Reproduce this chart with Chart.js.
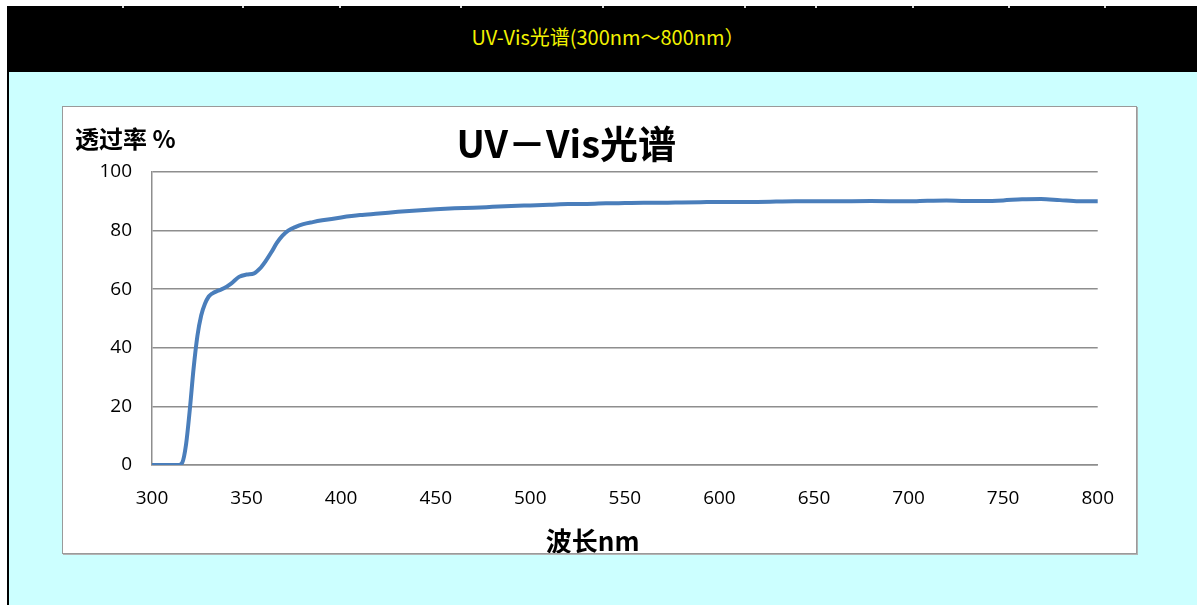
<!DOCTYPE html>
<html>
<head>
<meta charset="utf-8">
<script src="https://cdn.jsdelivr.net/npm/chart.js@4.4.1/dist/chart.umd.min.js"></script>
<style>
  html, body { margin: 0; padding: 0; background: #ffffff; }
  body { width: 1197px; height: 605px; position: relative; overflow: hidden; }
  #header { position: absolute; left: 7px; top: 6px; width: 1190px; height: 66px; background: #000000;
            color: #f2f200; font-family: "Noto Sans CJK JP", "Noto Sans CJK SC", sans-serif; font-size: 20px;
            line-height: 66px; text-align: center; }
  #header .txt { position: absolute; left: 0; right: 0; top: -2px; padding-left: 12px; }
  .mark { position: absolute; top: 0; width: 2px; height: 2px; background: #d8d8d8; }
  #panel { position: absolute; left: 7px; top: 72px; width: 1190px; height: 533px; background: #ccffff;
           border-left: 2px solid #000000; box-sizing: border-box; }
  #box { position: absolute; left: 62px; top: 106px; width: 1073px; height: 446px; background: #ffffff;
         border: 1px solid #9a9a9a; box-shadow: 1px 1px 0 #b4b4b4; }
  #box canvas { display: block; }
</style>
</head>
<body>
<div id="header">
  <div class="mark" style="left:115px"></div>
  <div class="mark" style="left:235px"></div>
  <div class="mark" style="left:332px"></div>
  <div class="mark" style="left:453px"></div>
  <div class="mark" style="left:595px"></div>
  <div class="mark" style="left:737px"></div>
  <div class="mark" style="left:808px"></div>
  <div class="mark" style="left:905px"></div>
  <div class="mark" style="left:1001px"></div>
  <div class="mark" style="left:1097px"></div>
  <div class="txt">UV-Vis光谱(300nm～800nm）</div>
</div>
<div id="panel"></div>
<div id="box"><canvas id="c" width="1073" height="446"></canvas></div>
<script>
// ---- data ----
const chartTitle = "UV－Vis光谱";
const yAxisTitle = "透过率 %";
const xAxisTitle = "波长nm";

const wavelength = [300, 305, 310, 314, 316, 318, 320, 322, 324, 326, 328, 330, 332, 335, 338, 342, 346, 350,
  354, 357, 360, 363, 366, 369, 372, 376, 380, 385, 390, 400, 410, 420, 430, 440, 450, 460, 470, 480, 490,
  500, 510, 520, 530, 540, 550, 560, 570, 580, 590, 600, 620, 640, 660, 680, 700, 710, 720, 730, 740, 750,
  760, 770, 780, 790, 800];
const transmittance = [0, 0, 0, 0, 0.8, 7, 19, 33, 44, 51, 55, 57.5, 58.6, 59.5, 60.3, 62, 64.2, 65,
  65.4, 67, 69.5, 72.5, 75.8, 78.3, 80, 81.3, 82.2, 82.9, 83.5, 84.5, 85.3, 85.8, 86.4, 86.9, 87.3, 87.6, 87.8, 88.1, 88.4,
  88.6, 88.8, 89.1, 89.1, 89.3, 89.4, 89.5, 89.5, 89.6, 89.7, 89.8, 89.8, 90.0, 90.0, 90.1, 90.0, 90.2, 90.3, 90.1, 90.1, 90.3,
  90.7, 90.8, 90.4, 90.0, 90.0];

const xTicks = [300, 350, 400, 450, 500, 550, 600, 650, 700, 750, 800];
const yTicks = [0, 20, 40, 60, 80, 100];

const points = wavelength.map((w, i) => ({ x: w, y: transmittance[i] }));

const titlePlugin = {
  id: 'excelTitles',
  afterDraw(chart) {
    const ctx = chart.ctx;
    const a = chart.chartArea;
    ctx.save();
    ctx.fillStyle = '#000000';
    ctx.textBaseline = 'middle';
    // chart title
    ctx.font = 'bold 38px "Noto Sans CJK SC", sans-serif';
    ctx.textAlign = 'center';
    ctx.fillText(chartTitle, a.left + (a.right - a.left) * 0.438, a.top - 28);
    // y axis title (horizontal, top-left)
    ctx.font = 'bold 24px "Noto Sans CJK SC", sans-serif';
    ctx.textAlign = 'left';
    ctx.fillText(yAxisTitle, a.left - 77, a.top - 33);
    // x axis title
    ctx.font = 'bold 26px "Noto Sans CJK SC", sans-serif';
    ctx.textAlign = 'center';
    ctx.fillText(xAxisTitle, a.left + (a.right - a.left) * 0.466, a.bottom + 76);
    ctx.restore();
  }
};

new Chart(document.getElementById('c'), {
  type: 'line',
  data: {
    datasets: [{
      data: points,
      borderColor: '#4a7ebb',
      borderWidth: 4,
      pointRadius: 0,
      fill: false,
      tension: 0.4,
      cubicInterpolationMode: 'monotone',
      borderCapStyle: 'round',
      borderJoinStyle: 'round'
    }]
  },
  options: {
    responsive: false,
    animation: false,
    events: [],
    layout: { padding: { top: 65, right: 38, left: 0, bottom: 0 } },
    plugins: { legend: { display: false }, title: { display: false }, tooltip: { enabled: false } },
    scales: {
      x: {
        type: 'linear',
        min: 300, max: 800,
        afterBuildTicks(scale) { scale.ticks = xTicks.map(v => ({ value: v })); },
        afterFit(scale) { scale.height = 88; },
        grid: { display: false, drawTicks: false },
        border: { display: true, color: '#8e8e8e', width: 1.5 },
        ticks: { padding: 22, color: '#000000', font: { family: '"Open Sans", sans-serif', size: 19 }, maxRotation: 0, autoSkip: false }
      },
      y: {
        min: 0, max: 100,
        afterBuildTicks(scale) { scale.ticks = yTicks.map(v => ({ value: v })); },
        afterFit(scale) { scale.width = 89; },
        grid: { color: '#8e8e8e', lineWidth: 1.5, drawTicks: false },
        border: { display: true, color: '#8e8e8e', width: 1.5 },
        ticks: { padding: 20, color: '#000000', font: { family: '"Open Sans", sans-serif', size: 19 } }
      }
    }
  },
  plugins: [titlePlugin]
});
</script>
</body>
</html>
